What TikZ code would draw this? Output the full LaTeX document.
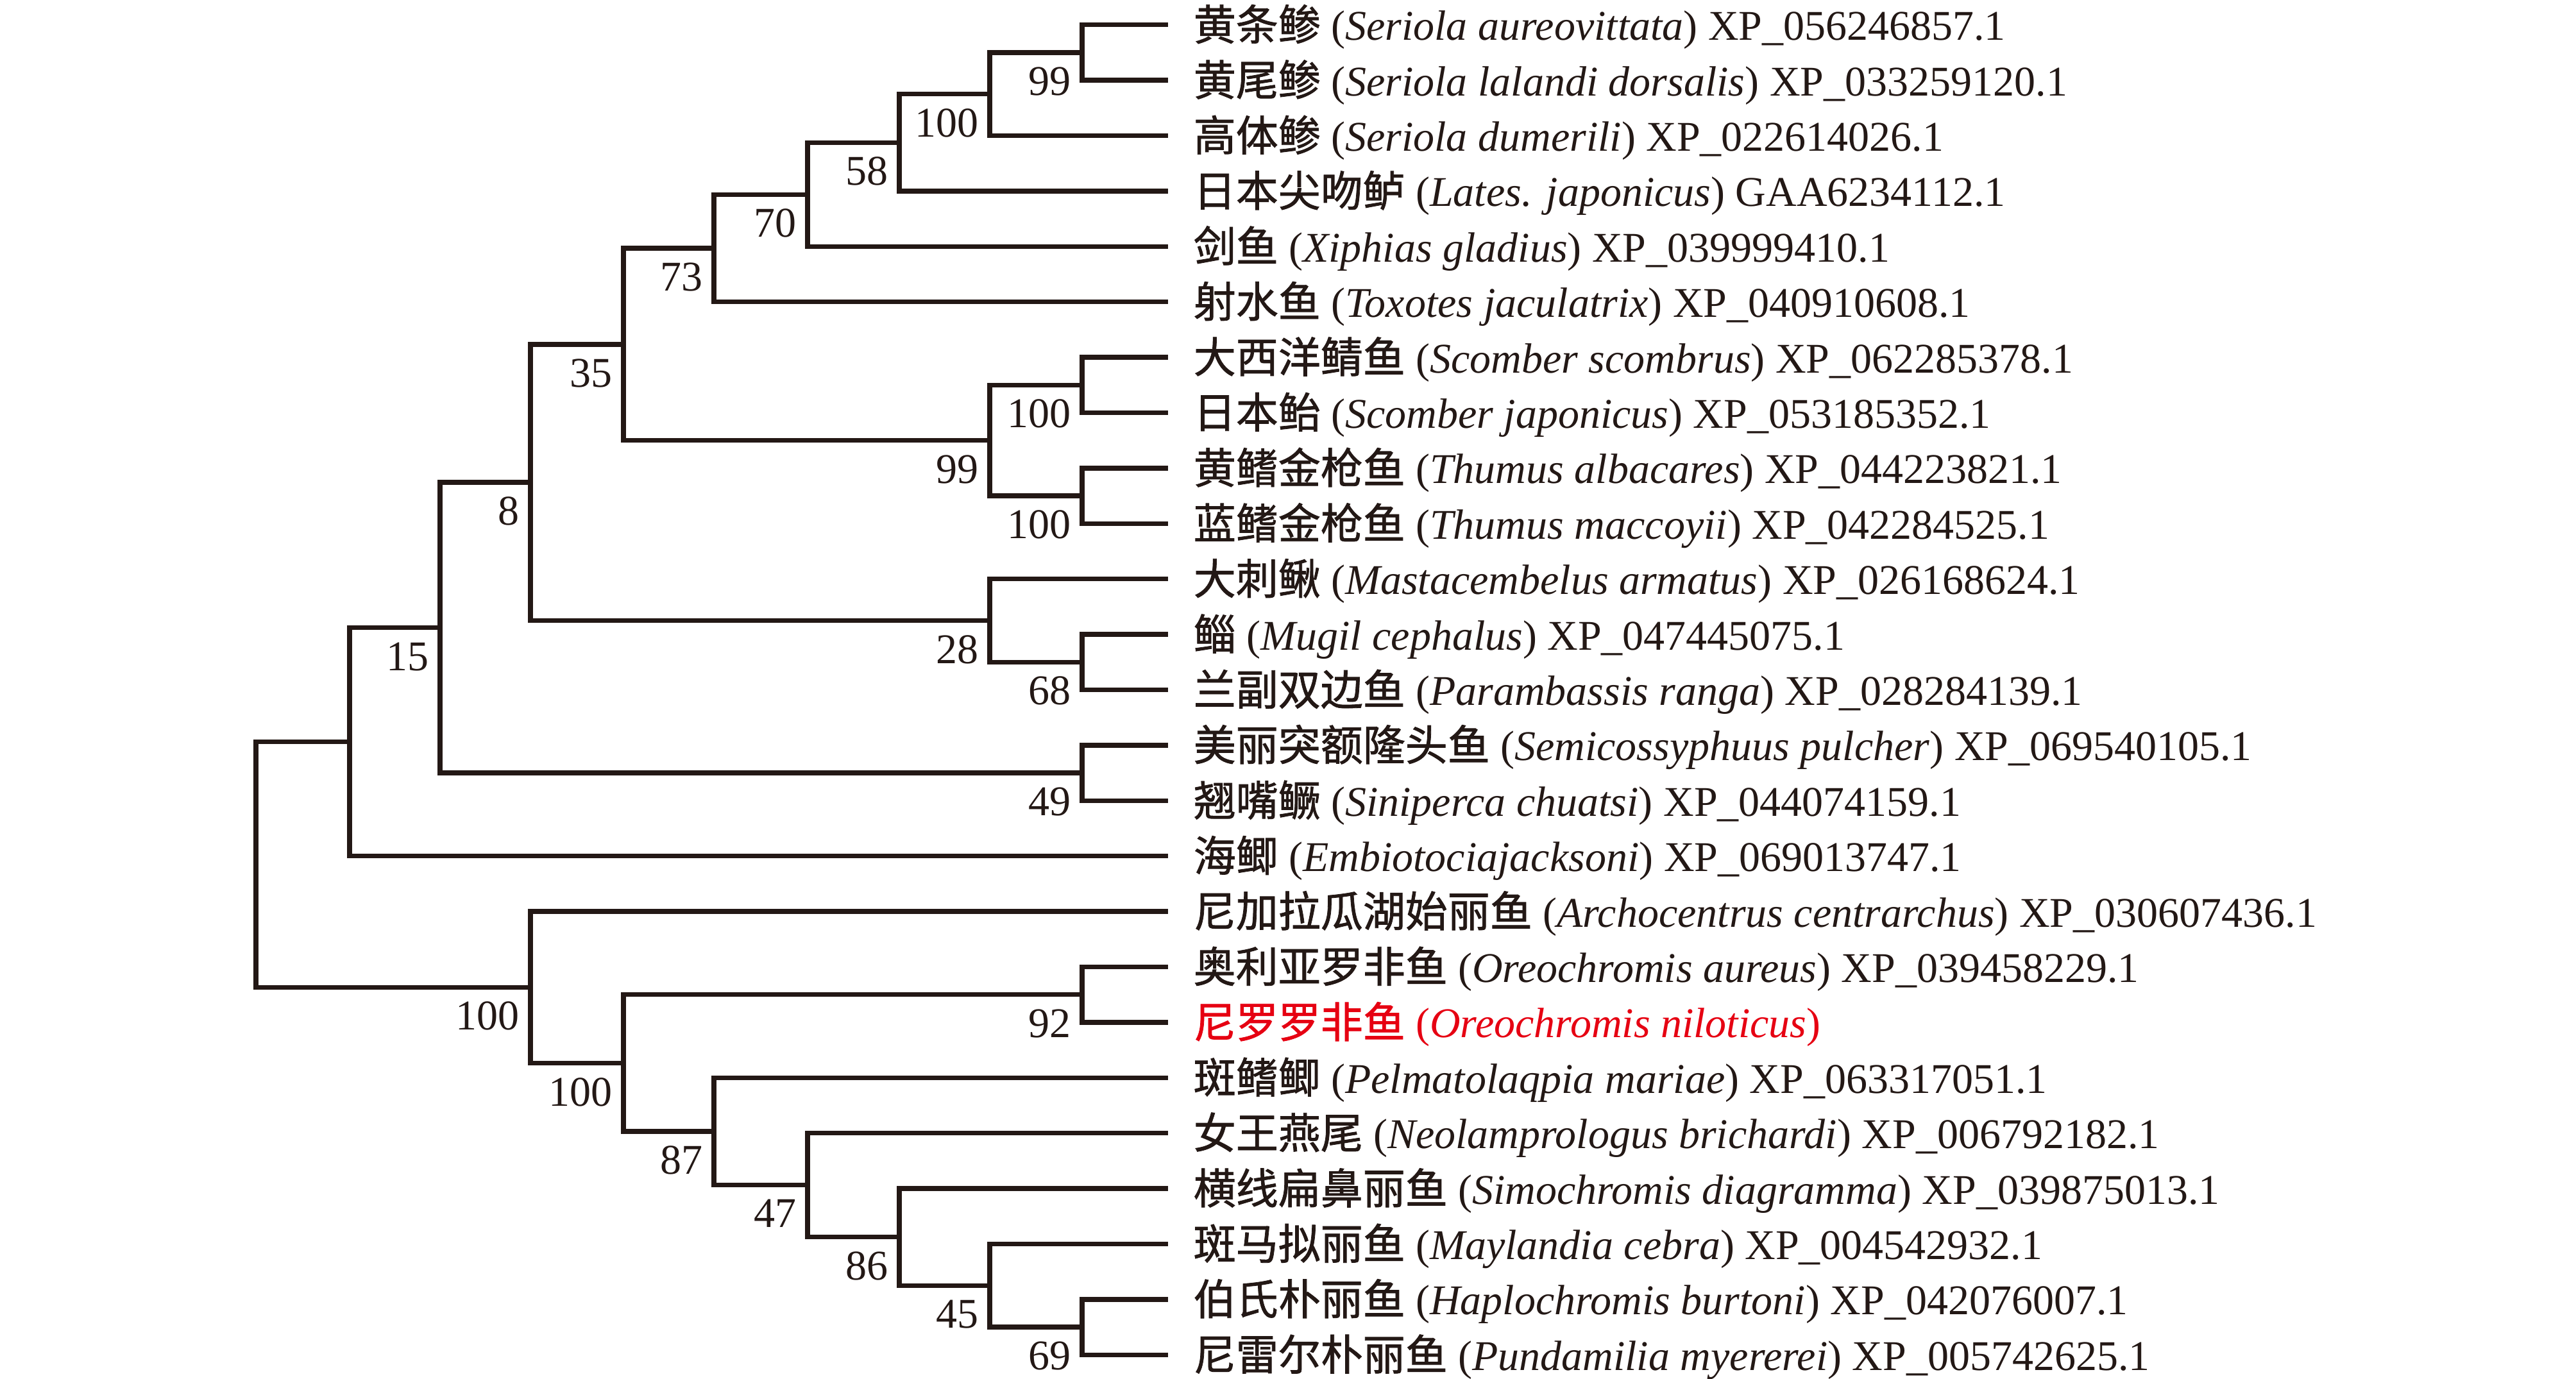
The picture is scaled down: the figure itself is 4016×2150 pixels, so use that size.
\documentclass[tikz,border=0pt]{standalone}
\usepackage{fontspec}
\setmainfont{Liberation Serif}
\newfontfamily\cjk{Noto Sans CJK SC}[FakeBold=1.2]
\usetikzlibrary{calc}
\definecolor{ink}{RGB}{35,24,21}
\definecolor{hl}{RGB}{230,0,18}
\newcommand{\Yl}[1]{38.7+86.4*(#1)}
\begin{document}
\begin{tikzpicture}[x=0.25pt,y=-0.25pt,
  br/.style={draw=ink,line width=1.85pt},
  leaf/.style={anchor=base west,inner sep=0pt,text=ink,font=\fontsize{16.5}{19}\selectfont},
  bs/.style={anchor=north east,inner sep=0pt,text=ink,font=\fontsize{16.5}{19}\selectfont}]
\useasboundingbox (0,0) rectangle (4016,2150);
% leaf ends
\foreach \i in {0,...,24} {\coordinate (l\i) at (1821,{\Yl{\i}});}
% internal nodes
\coordinate (n99a)  at (1687,{\Yl{0.5}});
\coordinate (n100a) at (1543,{\Yl{1.25}});
\coordinate (n58)   at (1402,{\Yl{2.125}});
\coordinate (n70)   at (1259,{\Yl{3.0625}});
\coordinate (n73)   at (1113,{\Yl{4.03125}});
\coordinate (n100b) at (1687,{\Yl{6.5}});
\coordinate (n100c) at (1687,{\Yl{8.5}});
\coordinate (n99b)  at (1543,{\Yl{7.5}});
\coordinate (n35)   at (972,{\Yl{5.765625}});
\coordinate (n68)   at (1687,{\Yl{11.5}});
\coordinate (n28)   at (1543,{\Yl{10.75}});
\coordinate (n8)    at (827,{\Yl{8.2578125}});
\coordinate (n49)   at (1687,{\Yl{13.5}});
\coordinate (n15)   at (686,{\Yl{10.87890625}});
\coordinate (nX)    at (545,{\Yl{12.939453125}});
\coordinate (n92)   at (1687,{\Yl{17.5}});
\coordinate (n69)   at (1687,{\Yl{23.5}});
\coordinate (n45)   at (1543,{\Yl{22.75}});
\coordinate (n86)   at (1402,{\Yl{21.875}});
\coordinate (n47)   at (1259,{\Yl{20.9375}});
\coordinate (n87)   at (1113,{\Yl{19.96875}});
\coordinate (n100e) at (972,{\Yl{18.734375}});
\coordinate (n100d) at (827,{\Yl{17.3671875}});
\coordinate (root)  at (399,{\Yl{15.1533203125}});
% branches
\foreach \p/\c in {n99a/l0,n99a/l1,n100a/n99a,n100a/l2,n58/n100a,n58/l3,n70/n58,n70/l4,
  n73/n70,n73/l5,n100b/l6,n100b/l7,n100c/l8,n100c/l9,n99b/n100b,n99b/n100c,n35/n73,n35/n99b,
  n68/l11,n68/l12,n28/l10,n28/n68,n8/n35,n8/n28,n49/l13,n49/l14,n15/n8,n15/n49,nX/n15,nX/l15,
  n92/l17,n92/l18,n69/l23,n69/l24,n45/l22,n45/n69,n86/l21,n86/n45,n47/l20,n47/n86,n87/l19,n87/n47,
  n100e/n92,n100e/n87,n100d/l16,n100d/n100e,root/nX,root/n100d}
  {\draw[br] (\p) |- (\c);}
% bootstrap values
\foreach \n/\v in {n99a/99,n100a/100,n58/58,n70/70,n73/73,n35/35,n100b/100,n99b/99,n100c/100,
  n8/8,n28/28,n68/68,n15/15,n49/49,n100d/100,n100e/100,n92/92,n87/87,n47/47,n86/86,n45/45,n69/69}
  {\node[bs] (b\n) at ($(\n)+(-17,22)$) {\v};}
% leaf labels
\node[leaf] (t0) at ($(l0)+(39,24)$) {{\cjk 黄条鲹} (\textit{Seriola aureovittata}) XP\_056246857.1};
\node[leaf] (t1) at ($(l1)+(39,24)$) {{\cjk 黄尾鲹} (\textit{Seriola lalandi dorsalis}) XP\_033259120.1};
\node[leaf] (t2) at ($(l2)+(39,24)$) {{\cjk 高体鲹} (\textit{Seriola dumerili}) XP\_022614026.1};
\node[leaf] (t3) at ($(l3)+(39,24)$) {{\cjk 日本尖吻鲈} (\textit{Lates. japonicus}) GAA6234112.1};
\node[leaf] (t4) at ($(l4)+(39,24)$) {{\cjk 剑鱼} (\textit{Xiphias gladius}) XP\_039999410.1};
\node[leaf] (t5) at ($(l5)+(39,24)$) {{\cjk 射水鱼} (\textit{Toxotes jaculatrix}) XP\_040910608.1};
\node[leaf] (t6) at ($(l6)+(39,24)$) {{\cjk 大西洋鲭鱼} (\textit{Scomber scombrus}) XP\_062285378.1};
\node[leaf] (t7) at ($(l7)+(39,24)$) {{\cjk 日本鲐} (\textit{Scomber japonicus}) XP\_053185352.1};
\node[leaf] (t8) at ($(l8)+(39,24)$) {{\cjk 黄鳍金枪鱼} (\textit{Thumus albacares}) XP\_044223821.1};
\node[leaf] (t9) at ($(l9)+(39,24)$) {{\cjk 蓝鳍金枪鱼} (\textit{Thumus maccoyii}) XP\_042284525.1};
\node[leaf] (t10) at ($(l10)+(39,24)$) {{\cjk 大刺鳅} (\textit{Mastacembelus armatus}) XP\_026168624.1};
\node[leaf] (t11) at ($(l11)+(39,24)$) {{\cjk 鲻} (\textit{Mugil cephalus}) XP\_047445075.1};
\node[leaf] (t12) at ($(l12)+(39,24)$) {{\cjk 兰副双边鱼} (\textit{Parambassis ranga}) XP\_028284139.1};
\node[leaf] (t13) at ($(l13)+(39,24)$) {{\cjk 美丽突额隆头鱼} (\textit{Semicossyphuus pulcher}) XP\_069540105.1};
\node[leaf] (t14) at ($(l14)+(39,24)$) {{\cjk 翘嘴鳜} (\textit{Siniperca chuatsi}) XP\_044074159.1};
\node[leaf] (t15) at ($(l15)+(39,24)$) {{\cjk 海鲫} (\textit{Embiotociajacksoni}) XP\_069013747.1};
\node[leaf] (t16) at ($(l16)+(39,24)$) {{\cjk 尼加拉瓜湖始丽鱼} (\textit{Archocentrus centrarchus}) XP\_030607436.1};
\node[leaf] (t17) at ($(l17)+(39,24)$) {{\cjk 奥利亚罗非鱼} (\textit{Oreochromis aureus}) XP\_039458229.1};
\node[leaf,text=hl] (t18) at ($(l18)+(39,24)$) {{\cjk 尼罗罗非鱼} (\textit{Oreochromis niloticus})};
\node[leaf] (t19) at ($(l19)+(39,24)$) {{\cjk 斑鳍鲫} (\textit{Pelmatolaqpia mariae}) XP\_063317051.1};
\node[leaf] (t20) at ($(l20)+(39,24)$) {{\cjk 女王燕尾} (\textit{Neolamprologus brichardi}) XP\_006792182.1};
\node[leaf] (t21) at ($(l21)+(39,24)$) {{\cjk 横线扁鼻丽鱼} (\textit{Simochromis diagramma}) XP\_039875013.1};
\node[leaf] (t22) at ($(l22)+(39,24)$) {{\cjk 斑马拟丽鱼} (\textit{Maylandia cebra}) XP\_004542932.1};
\node[leaf] (t23) at ($(l23)+(39,24)$) {{\cjk 伯氏朴丽鱼} (\textit{Haplochromis burtoni}) XP\_042076007.1};
\node[leaf] (t24) at ($(l24)+(39,24)$) {{\cjk 尼雷尔朴丽鱼} (\textit{Pundamilia myererei}) XP\_005742625.1};
\end{tikzpicture}
\end{document}
